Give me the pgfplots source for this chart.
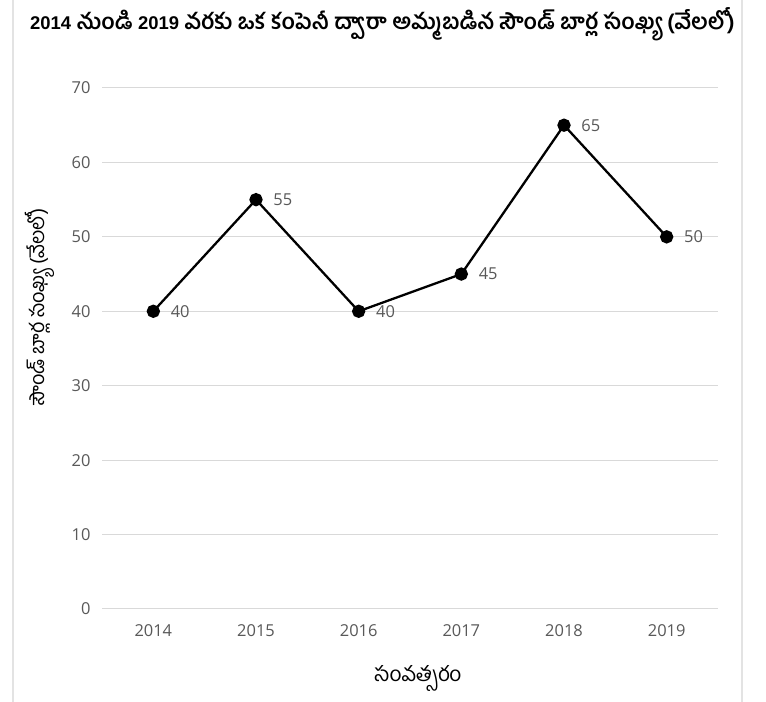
\documentclass[border=0pt]{standalone}
\usepackage{pgfplots}
\pgfplotsset{compat=1.18}
\usepackage{fontspec}
\setmainfont{Open Sans}
\newfontfamily\telugu[Script=Telugu]{Hind Guntur}
\newfontfamily\arialb{Liberation Sans}
\definecolor{tickgray}{HTML}{595959}
\definecolor{gridgray}{HTML}{D9D9D9}
\definecolor{framegray}{HTML}{E3E3E3}
\newcommand{\lt}[1]{{\arialb\bfseries\fontsize{18.5}{20}\selectfont #1}}
\begin{document}
\begin{tikzpicture}[x=1bp,y=1bp]
\useasboundingbox (0,0) rectangle (766,702);
\fill[white] (0,0) rectangle (766,702);
\draw[framegray, line width=1.5bp] (13,0) -- (13,702);
\draw[framegray, line width=1.5bp] (742,0) -- (742,702);
\begin{axis}[
  at={(102bp,93bp)}, anchor=south west,
  scale only axis, width=616bp, height=521bp,
  xmin=-0.5, xmax=5.5, ymin=0, ymax=70,
  xtick={0,1,2,3,4,5},
  xticklabels={2014,2015,2016,2017,2018,2019},
  ytick={0,10,20,30,40,50,60,70},
  axis line style={draw=none},
  major tick length=0pt,
  ymajorgrids, grid style={gridgray, line width=1bp},
  tick label style={text=tickgray, font=\fontsize{16.5}{18}\selectfont},
  /pgf/number format/assume math mode=true,
  xticklabel style={yshift=-12bp},
  yticklabel style={xshift=-8bp},
  clip=false,
  nodes near coords,
  nodes near coords style={anchor=west, xshift=13bp, text=tickgray, font=\fontsize{16.5}{18}\selectfont},
]
\addplot[black, line width=2.3bp, mark=*, mark size=5.5bp, mark options={fill=black}]
  coordinates {(0,40) (1,55) (2,40) (3,45) (4,65) (5,50)};
\end{axis}
\node[anchor=base west, font=\telugu\bfseries\fontsize{22}{24}\selectfont, inner sep=0pt] at (30,672)
  {\lt{2014} నుండి \lt{2019} వరకు ఒక కంపెనీ ద్వారా అమ్మబడిన సౌండ్ బార్ల సంఖ్య (వేలలో)};
\node[rotate=90, font=\telugu\fontsize{20}{22}\selectfont] at (40,395)
  {సౌండ్ బార్ల సంఖ్య (వేలలో)};
\node[font=\telugu\fontsize{21}{24}\selectfont] at (418,24) {సంవత్సరం};
\end{tikzpicture}
\end{document}
